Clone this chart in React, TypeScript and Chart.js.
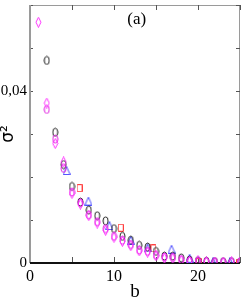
import React, { useEffect, useRef } from "react";
import { Chart, registerables } from "chart.js";

Chart.register(...registerables);

// ---- data ----
const B_INT = [1, 2, 3, 4, 5, 6, 7, 8, 9, 10, 11, 12, 13, 14, 15, 16, 17, 18, 19, 20, 21, 22, 23, 24, 25];
const BLACK_CIRCLES = [null, 0.0471, 0.0304, 0.0229, 0.0178, 0.0142, 0.0123, 0.0110, 0.0098, 0.0080, 0.0062, 0.0053, 0.0041, 0.0037, 0.0027, 0.0016, 0.0016, 0.0012, 0.0007, 0.0005, 0.0004, 0.0003, 0.0003, 0.0003, 0.0002];
const MAGENTA_CIRCLES = [null, 0.0357, 0.0288, 0.0220, 0.0165, 0.0140, 0.0112, 0.0096, 0.0080, 0.0062, 0.0053, 0.0043, 0.0030, 0.0027, 0.0018, 0.0014, 0.0013, 0.0008, 0.0005, 0.0004, 0.0003, 0.0003, 0.0002, 0.0002, 0.0002];
const MAGENTA_DIAMONDS = [0.0560, 0.0372, 0.0278, 0.0235, 0.0162, 0.0137, 0.0110, 0.0093, 0.0076, 0.0060, 0.0050, 0.0040, 0.0028, 0.0025, 0.0017, 0.0011, 0.0011, 0.0006, 0.0004, 0.0006, 0.0003, 0.0002, 0.0002, 0.0003, 0.0002];
const BLUE_B = [4.35, 6.95, 9.45, 12.0, 14.0, 16.85, 19.0, 21.8, 23.8];
const BLUE_V = [0.0215, 0.0144, 0.0087, 0.0053, 0.0035, 0.0032, 0.0011, 0.0003, 0.0003];
const RED_B = [5.9, 10.8, 14.7, 20.1, 24.9];
const RED_V = [0.0174, 0.0082, 0.0034, 0.0002, 0.0001];
const X_LABELS = ["0", "10", "20"];
const Y_LABELS = ["0", "0,04"];
const X_TITLE = "b";
const Y_TITLE = "σ²";
const PANEL = "(a)";

function marker(kind: string, color: string): HTMLCanvasElement {
  const c = document.createElement("canvas");
  const dims: Record<string, [number, number]> = {
    ellipse: [7, 10],
    diamond: [7, 11],
    triangle: [8, 9],
    square: [6, 8],
  };
  const [w, h] = dims[kind];
  c.width = w;
  c.height = h;
  const ctx = c.getContext("2d")!;
  ctx.strokeStyle = color;
  ctx.lineWidth = 1;
  ctx.beginPath();
  if (kind === "ellipse") {
    ctx.ellipse(w / 2, h / 2, w / 2 - 1, h / 2 - 1, 0, 0, Math.PI * 2);
  } else if (kind === "diamond") {
    ctx.moveTo(w / 2, 0.5);
    ctx.lineTo(w - 1, h / 2);
    ctx.lineTo(w / 2, h - 0.5);
    ctx.lineTo(1, h / 2);
    ctx.closePath();
  } else if (kind === "triangle") {
    ctx.moveTo(w / 2, 0.5);
    ctx.lineTo(w - 0.5, h - 0.5);
    ctx.lineTo(0.5, h - 0.5);
    ctx.closePath();
  } else {
    ctx.rect(0.5, 0.5, w - 1, h - 1);
  }
  ctx.stroke();
  return c;
}

const framePlugin = {
  id: "frame",
  beforeDatasetsDraw(chart: any) {
    const { ctx, chartArea: a, scales } = chart;
    const x = scales.x, y = scales.y;
    ctx.save();
    // top & right frame
    ctx.strokeStyle = "#9a9a9a";
    ctx.lineWidth = 1;
    ctx.beginPath();
    ctx.moveTo(a.left, a.top + 0.5);
    ctx.lineTo(a.right, a.top + 0.5);
    ctx.moveTo(a.right - 0.5, a.top);
    ctx.lineTo(a.right - 0.5, a.bottom);
    ctx.stroke();
    // ticks
    ctx.strokeStyle = "#555";
    ctx.beginPath();
    for (let v = 0; v <= 25; v += 5) {
      const px = Math.round(x.getPixelForValue(v)) + 0.5;
      ctx.moveTo(px, a.top);
      ctx.lineTo(px, a.top + 5);
      ctx.moveTo(px, a.bottom);
      ctx.lineTo(px, a.bottom - 6);
    }
    for (let i = 1; i <= 6; i++) {
      const py = Math.round(y.getPixelForValue(i * 0.01)) + 0.5;
      ctx.moveTo(a.left, py);
      ctx.lineTo(a.left + 3, py);
      ctx.moveTo(a.right, py);
      ctx.lineTo(a.right - 4, py);
    }
    ctx.stroke();
    // left axis (grey) and bottom axis (black)
    ctx.lineWidth = 2;
    ctx.strokeStyle = "#9a9a9a";
    ctx.beginPath();
    ctx.moveTo(a.left, a.top);
    ctx.lineTo(a.left, a.bottom);
    ctx.stroke();
    ctx.strokeStyle = "#111";
    ctx.beginPath();
    ctx.moveTo(a.left, a.bottom);
    ctx.lineTo(a.right, a.bottom);
    ctx.stroke();
    // panel label
    ctx.fillStyle = "#000";
    ctx.font = "17px 'Liberation Serif'";
    ctx.textAlign = "center";
    ctx.textBaseline = "middle";
    ctx.fillText(PANEL, x.getPixelForValue(12.7), a.top + 15);
    ctx.restore();
  },
};

export default function App() {
  const ref = useRef<HTMLCanvasElement>(null);
  useEffect(() => {
    const ell = (c: string) => marker("ellipse", c);
    const chart = new Chart(ref.current!, {
      type: "scatter",
      data: {
        datasets: [
          {
            data: B_INT.map((b, i) => ({ x: b, y: MAGENTA_DIAMONDS[i] })),
            pointStyle: marker("diamond", "#ff33ff") as any,
          },
          {
            data: B_INT.map((b, i) => ({ x: b, y: MAGENTA_CIRCLES[i] })),
            pointStyle: ell("#e020e0") as any,
          },
          {
            data: B_INT.map((b, i) => ({ x: b, y: BLACK_CIRCLES[i] })),
            pointStyle: ell("#222") as any,
          },
          {
            data: BLUE_B.map((b, i) => ({ x: b, y: BLUE_V[i] })),
            pointStyle: marker("triangle", "#4a4aff") as any,
          },
          {
            data: RED_B.map((b, i) => ({ x: b, y: RED_V[i] })),
            pointStyle: marker("square", "#ff4040") as any,
          },
        ] as any,
      },
      options: {
        animation: false,
        responsive: false,
        layout: { padding: { top: 0, right: 2, bottom: 0, left: 0 } },
        plugins: { legend: { display: false }, tooltip: { enabled: false } },
        scales: {
          x: {
            type: "linear",
            min: 0,
            max: 25,
            grid: { display: false, drawTicks: false },
            border: { display: false },
            ticks: {
              stepSize: 5,
              padding: 4,
              maxRotation: 0,
              color: "#000",
              font: { family: "'Liberation Serif'", size: 16 },
              callback: (v: any) => (X_LABELS.includes(String(v)) ? String(v) : ""),
            },
            title: {
              display: true,
              text: X_TITLE,
              color: "#000",
              font: { family: "'Liberation Serif'", size: 19, lineHeight: 1 },
              padding: { top: 0, bottom: -2 },
            },
            afterFit: (s: any) => {
              s.height = 37;
              s.paddingLeft = 0;
              s.paddingRight = 0;
            },
          },
          y: {
            min: 0,
            max: 0.06,
            grid: { display: false, drawTicks: false },
            border: { display: false },
            ticks: {
              stepSize: 0.01,
              padding: 3,
              color: "#000",
              font: { family: "'Liberation Serif'", size: 15 },
              callback: (v: any) => {
                const s = Math.abs(v) < 1e-9 ? "0" : Math.abs(v - 0.04) < 1e-9 ? "0,04" : "";
                return Y_LABELS.includes(s) ? s : "";
              },
            },
            title: {
              display: true,
              text: Y_TITLE,
              color: "#000",
              font: { family: "'DejaVu Sans'", size: 17, lineHeight: 1 },
              padding: 0,
            },
            afterFit: (s: any) => {
              s.width = 30;
              s.paddingTop = 0;
              s.paddingBottom = 0;
            },
          },
        },
      } as any,
      plugins: [framePlugin],
    });
    return () => chart.destroy();
  }, []);
  return (
    <div style={{ position: "fixed", left: 0, top: 0, width: 245, height: 300, background: "#fff" }}>
      <canvas ref={ref} width={245} height={300} style={{ width: 245, height: 300, display: "block" }} />
    </div>
  );
}
